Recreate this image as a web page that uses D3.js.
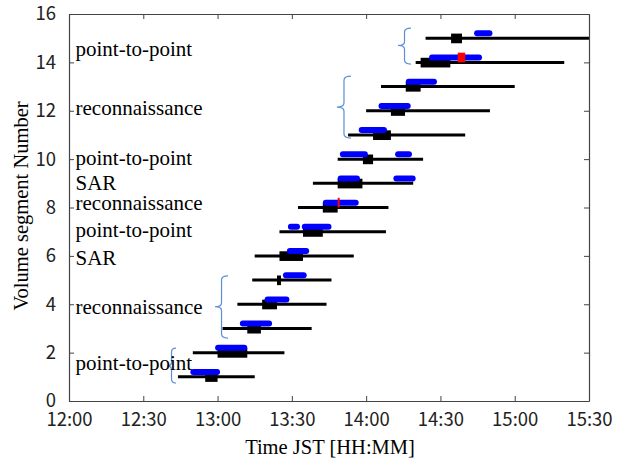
<!DOCTYPE html>
<html><head><meta charset="utf-8">
<script src="https://cdn.jsdelivr.net/npm/d3@7"></script>
<style>body{margin:0;background:#fff}svg{display:block}</style>
</head><body><div id="chart"></div>
<script>
// minutes after 12:00
const segments   = [1,2,3,4,5,6,7,8,9,10,11,12,13,14,15];
const lineStart  = [44,50,62,68,74,75,85,92.5,98.5,108.5,112.7,120,126,140,144];
const lineEnd    = [75,87,98,104,106,115,128,129,139,143,160,170,180,200,220];
const boxStart   = [55,60,72,78,84,85,94.5,102.5,108.5,118.7,122.8,130,136,142,154.3];
const boxEnd     = [60,72,77.5,84,85.6,94.5,102.5,108.5,118.5,122.8,130,135.7,142,154,158.7];
const blueBars   = [[[49,61]],[[59,72]],[[69,82]],[[79,89]],[[86.4,96]],[[88,97]],
                    [[88.4,93.3],[94,106]],[[102.5,117]],[[108.5,117.5],[131,140]],
                    [[109.4,120.7],[131.7,138.5]],[[117,128.4]],[[125,138]],[[136,148.6]],
                    [[145.4,166.8]],[[163.6,171]]];
const redSeg     = [8,14];
const redStart   = [108.5,157];
const redEnd     = [109.3,160];
const xTicks     = [0,30,60,90,120,150,180,210];
const xTickLabels= ["12:00","12:30","13:00","13:30","14:00","14:30","15:00","15:30"];
const yTicks     = [0,2,4,6,8,10,12,14,16];
const labels     = ["point-to-point","reconnaissance","point-to-point","SAR","reconnaissance","point-to-point","SAR","reconnaissance","point-to-point"];
const labelY     = [14.55,12.11,10.05,9.01,8.19,7.07,5.91,3.89,1.57];
// braces: tip time, end time, segment top, segment bottom, segment mid
const braceTip   = [39.6,59,108.2,132.9];
const braceEnd   = [43.2,64.2,113.9,138.1];
const braceTop   = [2.19,5.17,13.43,15.42];
const braceBot   = [0.74,2.6,10.87,13.93];
const braceMid   = [1.45,3.9,12.15,14.7];

const W=625,H=459, L=69,R=589,T=14,B=401;
const svg=d3.select("#chart").append("svg").attr("width",W).attr("height",H);
svg.append("rect").attr("width",W).attr("height",H).attr("fill","#fff");
const x=d3.scaleLinear().domain([0,210]).range([L,R]);
const y=d3.scaleLinear().domain([0,16]).range([B,T]);

svg.append("defs").append("clipPath").attr("id","clip")
  .append("rect").attr("x",L).attr("y",T).attr("width",R-L).attr("height",B-T);
const g=svg.append("g").attr("clip-path","url(#clip)");

segments.forEach((s,i)=>{
  g.append("line").attr("x1",x(lineStart[i])).attr("x2",x(lineEnd[i]))
    .attr("y1",y(s)).attr("y2",y(s)).attr("stroke","#000").attr("stroke-width",3);
  g.append("rect").attr("x",x(boxStart[i])).attr("width",x(boxEnd[i])-x(boxStart[i]))
    .attr("y",y(s+0.19)).attr("height",y(s-0.21)-y(s+0.19)).attr("fill","#000");
  blueBars[i].forEach(b=>{
    g.append("rect").attr("x",x(b[0])).attr("width",x(b[1])-x(b[0]))
      .attr("y",y(s+0.2)-3).attr("height",6).attr("rx",3).attr("fill","#0000ff");
  });
});
redSeg.forEach((s,i)=>{
  g.append("rect").attr("x",x(redStart[i])).attr("width",x(redEnd[i])-x(redStart[i]))
    .attr("y",y(s+0.4)).attr("height",y(s)-y(s+0.4)).attr("fill","#ff0000");
});

// braces
braceTip.forEach((t,i)=>{
  const x0=x(t), x1=x(braceEnd[i]), xm=(x0+x1)/2;
  const ya=y(braceTop[i]), yb=y(braceBot[i]), ym=y(braceMid[i]);
  const r=4;
  const p=`M${x1},${ya} Q${xm},${ya} ${xm},${ya+r} L${xm},${ym-r} Q${xm},${ym} ${x0},${ym} Q${xm},${ym} ${xm},${ym+r} L${xm},${yb-r} Q${xm},${yb} ${x1},${yb}`;
  svg.append("path").attr("d",p).attr("fill","none").attr("stroke","#5b8fd6").attr("stroke-width",1.2);
});

// annotations
labels.forEach((t,i)=>{
  svg.append("text").attr("x",75.5).attr("y",y(labelY[i])).attr("dy","0.32em")
    .attr("font-family","'Liberation Serif','Times New Roman',serif").attr("font-size",21)
    .attr("fill","#000").text(t);
});

// axes
const tickFont="'Noto Sans CJK JP',sans-serif";
const axCol="#444";
const xb=svg.append("g").attr("transform",`translate(0,${B})`)
  .call(d3.axisBottom(x).tickValues(xTicks).tickSizeInner(-5).tickSizeOuter(0).tickPadding(12)
  .tickFormat((d,i)=>xTickLabels[i]));
const xt=svg.append("g").attr("transform",`translate(0,${T})`)
  .call(d3.axisTop(x).tickValues(xTicks).tickSizeInner(-5).tickSizeOuter(0).tickFormat(""));
const yl=svg.append("g").attr("transform",`translate(${L},0)`)
  .call(d3.axisLeft(y).tickValues(yTicks).tickSizeInner(-5).tickSizeOuter(0).tickPadding(13).tickFormat(d3.format("d")));
const yr=svg.append("g").attr("transform",`translate(${R},0)`)
  .call(d3.axisRight(y).tickValues(yTicks).tickSizeInner(-5).tickSizeOuter(0).tickFormat(""));
[xb,xt,yl,yr].forEach(a=>{
  a.selectAll(".domain").attr("stroke",axCol).attr("stroke-width",1.2);
  a.selectAll(".tick line").attr("stroke",axCol);
  a.selectAll("text").attr("font-family",tickFont).attr("font-size",18.5).attr("fill","#222");
});

svg.append("text").attr("x",330).attr("y",454).attr("text-anchor","middle")
  .attr("font-family","'Liberation Serif','Times New Roman',serif").attr("font-size",20.5)
  .text("Time JST [HH:MM]");
svg.append("text").attr("transform","translate(28,206) rotate(-90)").attr("text-anchor","middle")
  .attr("font-family","'Liberation Serif','Times New Roman',serif").attr("font-size",20.5)
  .text("Volume segment Number");
</script></body></html>
